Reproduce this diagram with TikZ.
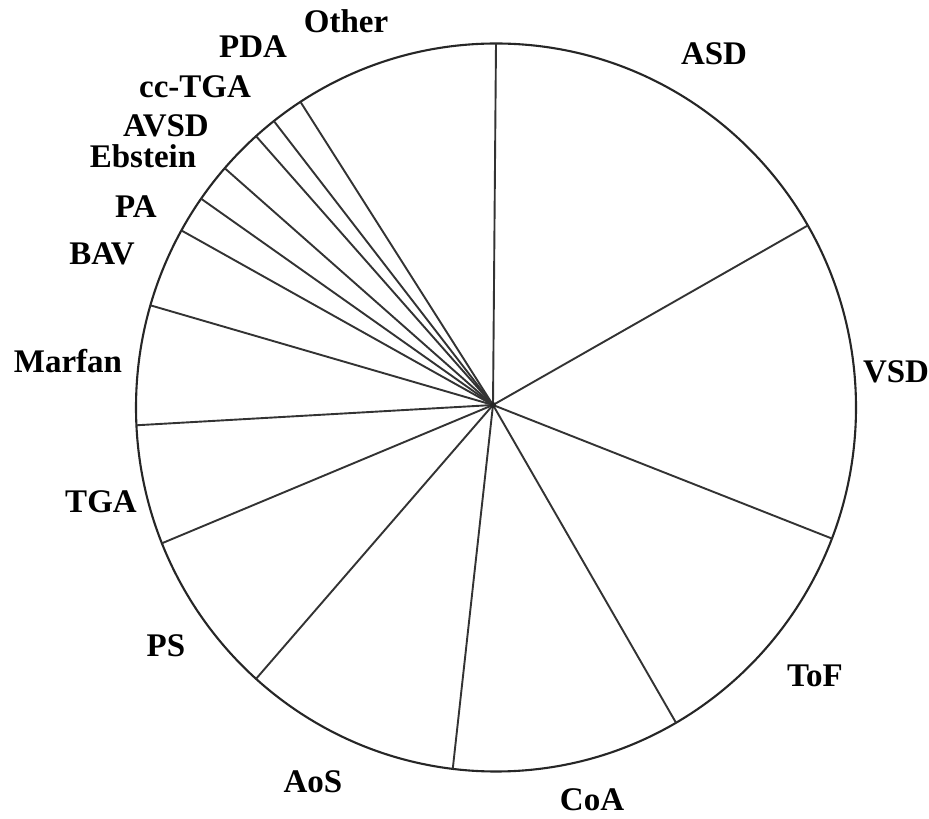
\documentclass[tikz,border=0pt]{standalone}
\usepackage{fontspec}
\setmainfont{Liberation Serif}
\begin{document}
\begin{tikzpicture}[x=1pt,y=1pt,
  rim/.style={draw=black!85, line width=2.1pt},
  spoke/.style={draw=black!80, line width=1.9pt},
  lbl/.style={anchor=base, inner sep=0pt, font=\bfseries\fontsize{33}{33}\selectfont}]
\useasboundingbox (0,0) rectangle (929,819);
\fill[white] (0,0) rectangle (929,819);
\coordinate (o) at (496,411.5);
\coordinate (c) at (493,414);
\draw[rim] (o) ellipse [x radius=360pt, y radius=364pt];
\foreach \n/\a in {1/90,2/30,3/-21.1,4/-60,5/263.1,6/228.2,7/201.9,8/182.8,9/163.7,10/150.9,11/145,12/138.9,13/131.8,14/128.1,15/122.9}{
  \path (o) ++(\a:360pt and 364pt) coordinate (s\n);
  \draw[spoke] (c) -- (s\n);
}
\fill[black!85] (c) circle (3pt);
\node[lbl] (other) at (346,786) {Other};
\node[lbl] (pda) at (253,761) {PDA};
\node[lbl] (cctga) at (195,721) {cc-TGA};
\node[lbl] (avsd) at (166,682) {AVSD};
\node[lbl] (ebstein) at (143,651) {Ebstein};
\node[lbl] (pa) at (136,601) {PA};
\node[lbl] (bav) at (102,554) {BAV};
\node[lbl] (marfan) at (68,446) {Marfan};
\node[lbl] (tga) at (101,306) {TGA};
\node[lbl] (ps) at (166,162) {PS};
\node[lbl] (aos) at (313,26) {AoS};
\node[lbl] (coa) at (592,8) {CoA};
\node[lbl] (tof) at (815,132) {ToF};
\node[lbl] (vsd) at (896,436) {VSD};
\node[lbl] (asd) at (714,754) {ASD};
\end{tikzpicture}
\end{document}
